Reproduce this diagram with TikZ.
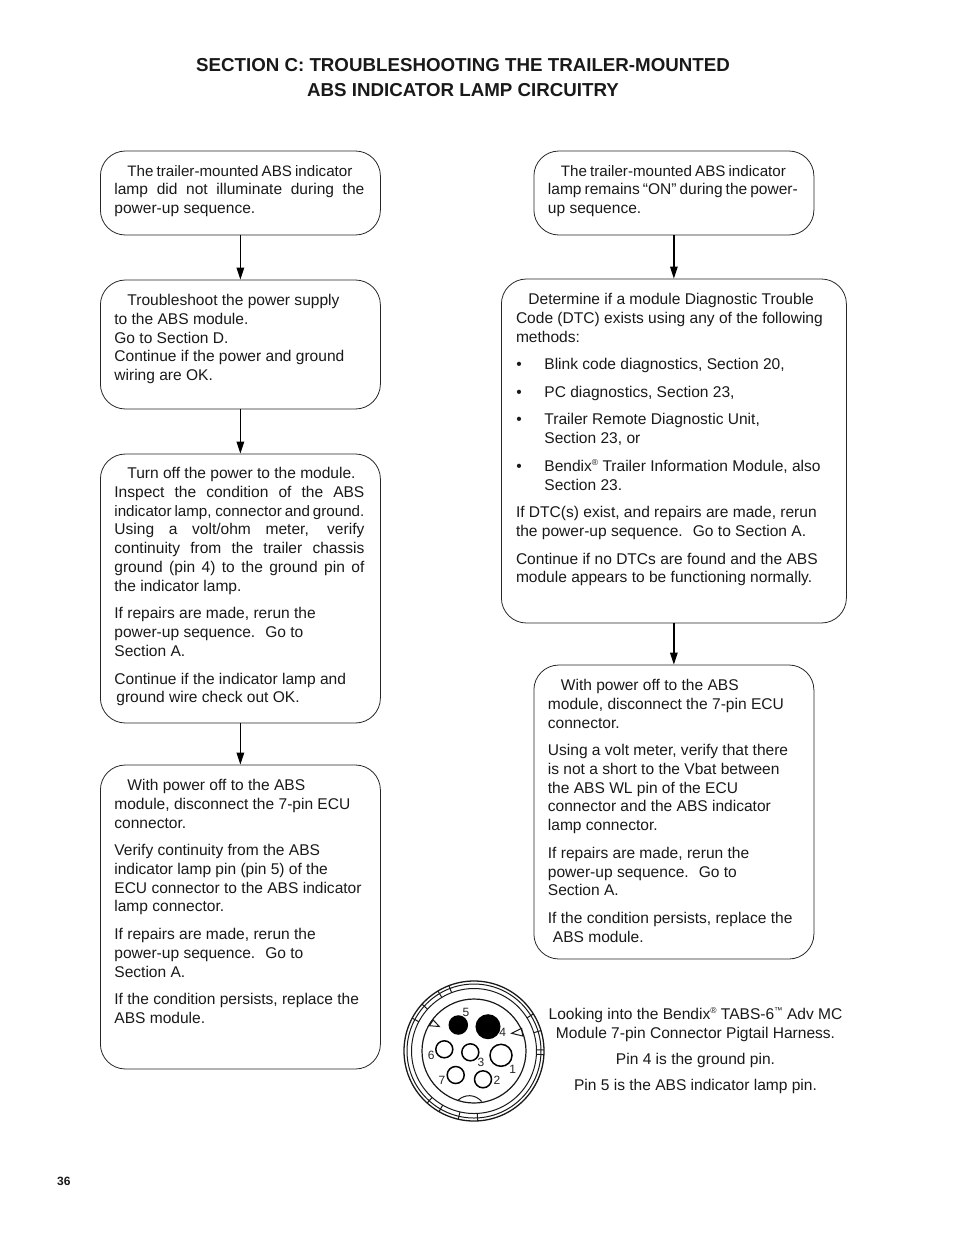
\documentclass[tikz,border=0pt]{standalone}
\usepackage{fontspec}
\setmainfont{Liberation Sans}
\usetikzlibrary{arrows.meta,calc}
\newcommand\lineT[2][14]{\hbox{\hskip#1pt\strut #2}}
\newcommand\lineJ[3][14]{\hbox{\hskip#1pt\strut\hbox to #2pt{\spaceskip=0pt plus 1fil minus 1fil\relax #3}}}
\newcommand\lineB[1]{\hbox{\hskip15pt\strut\hbox to 28pt{•\hfil}#1}}
\newcommand\lineC[1]{\hbox{\hskip43pt\strut #1}}
\newcommand\gapP{\vskip 8.9pt}
\newcommand\tightF{\fontsize{15.15}{18.75}\selectfont}
\newcommand\supsym[1]{\raisebox{5.5pt}{\fontsize{8.5}{9}\selectfont #1}}
\newcommand\bodyV[3]{\vbox to #2pt{\hsize=#1pt\hrule height 0pt width #1pt\vskip 12.4pt #3\vfil}}
\tikzset{
  x=1pt,y=1pt,
  flowbox/.style={draw=black!85,line width=0.8pt,rounded corners=25pt,inner sep=0pt,anchor=north west,
    font=\fontsize{15.55}{18.75}\selectfont,text=black!90},
  flowarrow/.style={line width=1.4pt,draw=black,-{Stealth[length=12pt,width=7.5pt,inset=0pt]}},
  caption/.style={font=\fontsize{15.55}{18.75}\selectfont,text=black!90,inner sep=0pt,anchor=base},
  pinlabel/.style={font=\fontsize{12}{13}\selectfont,text=black!85,inner sep=0pt},
  pinhole/.style={circle,draw=black,line width=1.5pt,inner sep=0pt},
  ringline/.style={draw=black!90,line width=1pt},
}
\begin{document}
\begin{tikzpicture}
\useasboundingbox (0,0) rectangle (954,-1235);
\node[font=\bfseries\fontsize{18.73}{25}\selectfont,align=center,inner sep=0pt,text=black!90] (title) at (463,-77.5)
 {SECTION C: TROUBLESHOOTING THE TRAILER-MOUNTED\\ABS INDICATOR LAMP CIRCUITRY};
% left column
\node[flowbox] (l1) at (100,-150.6) {\bodyV{280}{84}{%
 \vskip-0.5pt
 \lineJ[27]{225}{\tightF The trailer-mounted ABS indicator}%
 \lineJ{250}{lamp did not illuminate during the}%
 \lineT{power-up sequence.}}};
\node[flowbox] (l2) at (100,-279.6) {\bodyV{280}{129}{%
 \lineT[27]{Troubleshoot the power supply}%
 \lineT{to the ABS module.}%
 \lineT{Go to Section D.}%
 \lineT{Continue if the power and ground}%
 \lineT{wiring are OK.}}};
\node[flowbox] (l3) at (100,-453.6) {\bodyV{280}{269}{%
 \vskip-0.8pt
 \lineT[27]{Turn off the power to the module.}%
 \lineJ{250}{Inspect the condition of the ABS}%
 \lineJ{250}{\tightF indicator lamp, connector and ground.}%
 \lineJ{250}{Using a volt/ohm meter, verify}%
 \lineJ{250}{continuity from the trailer chassis}%
 \lineJ{250}{ground (pin 4) to the ground pin of}%
 \lineT{the indicator lamp.}%
 \gapP
 \lineT{If repairs are made, rerun the}%
 \lineT{power-up sequence.~ Go to}%
 \lineT{Section A.}%
 \gapP
 \lineT{Continue if the indicator lamp and}%
 \lineT[16]{ground wire check out OK.}}};
\node[flowbox] (l4) at (100,-764.6) {\bodyV{280}{304}{%
 \lineT[27]{With power off to the ABS}%
 \lineT{module, disconnect the 7-pin ECU}%
 \lineT{connector.}%
 \gapP
 \lineT{Verify continuity from the ABS}%
 \lineT{indicator lamp pin (pin 5) of the}%
 \lineT{ECU connector to the ABS indicator}%
 \lineT{lamp connector.}%
 \gapP
 \lineT{If repairs are made, rerun the}%
 \lineT{power-up sequence.~ Go to}%
 \lineT{Section A.}%
 \gapP
 \lineT{If the condition persists, replace the}%
 \lineT{ABS module.}}};
% right column
\node[flowbox] (r1) at (533.5,-150.6) {\bodyV{280}{84}{%
 \vskip-0.5pt
 \lineJ[27]{225}{\tightF The trailer-mounted ABS indicator}%
 \lineJ{250}{lamp remains “ON” during the power-}%
 \lineT{up sequence.}}};
\node[flowbox] (r2) at (501,-278.6) {\bodyV{345}{344}{%
 \lineT[27]{Determine if a module Diagnostic Trouble}%
 \lineT[14.6]{Code (DTC) exists using any of the following}%
 \lineT[14.6]{methods:}%
 \gapP
 \lineB{Blink code diagnostics, Section 20,}%
 \gapP
 \lineB{PC diagnostics, Section 23,}%
 \gapP
 \lineB{Trailer Remote Diagnostic Unit,}%
 \lineC{Section 23, or}%
 \gapP
 \lineB{Bendix\supsym{®} Trailer Information Module, also}%
 \lineC{Section 23.}%
 \gapP
 \lineT[14.6]{If DTC(s) exist, and repairs are made, rerun}%
 \lineT[14.6]{the power-up sequence.~ Go to Section A.}%
 \gapP
 \lineT[14.6]{Continue if no DTCs are found and the ABS}%
 \lineT[14.6]{module appears to be functioning normally.}}};
\node[flowbox] (r3) at (533.5,-664.6) {\bodyV{280}{294}{%
 \lineT[27]{With power off to the ABS}%
 \lineT{module, disconnect the 7-pin ECU}%
 \lineT{connector.}%
 \gapP
 \lineT{Using a volt meter, verify that there}%
 \lineT{is not a short to the Vbat between}%
 \lineT{the ABS WL pin of the ECU}%
 \lineT{connector and the ABS indicator}%
 \lineT{lamp connector.}%
 \gapP
 \lineT{If repairs are made, rerun the}%
 \lineT{power-up sequence.~ Go to}%
 \lineT{Section A.}%
 \gapP
 \lineT{If the condition persists, replace the}%
 \lineT[19]{ABS module.}}};
% connectors
\draw[flowarrow] (l1.south) -- (l2.north);
\draw[flowarrow] (l2.south) -- (l3.north);
\draw[flowarrow] (l3.south) -- (l4.north);
\draw[flowarrow] (r1.south) -- (r2.north);
\draw[flowarrow] (r2.south) -- (r3.north);
% pin diagram
\coordinate (hub) at (474,-1051);
\draw[ringline,line width=1.3pt] (hub) circle (70);
\draw[ringline] (hub) circle (67);
\draw[ringline] (hub) circle (62.5);
\draw[ringline,line width=1.2pt] (hub) circle (52);
\foreach \a in {111,121,138,152,32,17,1,-3,-120,-132,-103,-87}
  \draw[ringline] ($(hub)+(\a:62.5)$) -- ($(hub)+(\a:70)$);
\draw[ringline] (433.3,-1020) -- (429.3,-1025.7) -- (439.3,-1026.5) -- cycle;
\draw[ringline] (521.7,-1028.3) -- (511.7,-1033.3) -- (522.7,-1036) -- cycle;
\draw[ringline] (458.3,-1100) .. controls (465,-1094) and (475,-1094) .. (481.7,-1101.5);
\node[pinhole,fill=black,minimum size=18pt] (p5) at (458.3,-1025) {};
\node[pinhole,fill=black,minimum size=23.5pt] (p4) at (488,-1026.7) {};
\node[pinhole,minimum size=17pt] (p6) at (444.3,-1049.3) {};
\node[pinhole,minimum size=17pt] (p3) at (470.3,-1052.3) {};
\node[pinhole,minimum size=22pt] (p1) at (501,-1055.3) {};
\node[pinhole,minimum size=17pt] (p7) at (455.7,-1075) {};
\node[pinhole,minimum size=17pt] (p2) at (483,-1079.3) {};
\node[pinlabel] (n5) at (466,-1012) {5};
\node[pinlabel] (n4) at (502.7,-1032.7) {4};
\node[pinlabel] (n6) at (431.3,-1055) {6};
\node[pinlabel] (n3) at (481,-1062.3) {3};
\node[pinlabel] (n1) at (512.7,-1069) {1};
\node[pinlabel] (n7) at (442,-1080.7) {7};
\node[pinlabel] (n2) at (497,-1080.3) {2};
% caption
\node[caption] (c1) at (695.5,-1019) {Looking into the Bendix\supsym{®} TABS-6\supsym{™} Adv MC};
\node[caption] (c2) at (695.5,-1038) {Module 7-pin Connector Pigtail Harness.};
\node[caption] (c3) at (695.5,-1064) {Pin 4 is the ground pin.};
\node[caption] (c4) at (695.5,-1090) {Pin 5 is the ABS indicator lamp pin.};
\node[font=\bfseries\fontsize{12}{14}\selectfont,inner sep=0pt,anchor=base west,text=black!90] (page) at (57,-1185.5) {36};
\end{tikzpicture}
\end{document}
